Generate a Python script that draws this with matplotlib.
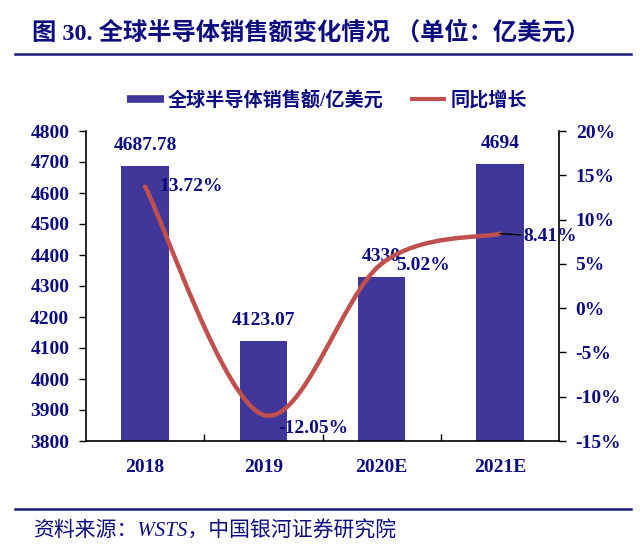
import matplotlib
matplotlib.use("Agg")
import matplotlib.pyplot as plt
from matplotlib.lines import Line2D
from matplotlib.path import Path
from matplotlib.patches import PathPatch
from matplotlib.font_manager import FontProperties

YEARS = ["2018", "2019", "2020E", "2021E"]
SALES = [4687.78, 4123.07, 4330, 4694]
GROWTH = [13.72, -12.05, 5.02, 8.41]
SALES_LABELS = ["4687.78", "4123.07", "4330", "4694"]
GROWTH_LABELS = ["13.72%", "-12.05%", "5.02%", "8.41%"]

TITLE = "图 30. 全球半导体销售额变化情况 （单位：亿美元）"
SOURCE = "资料来源：WSTS，中国银河证券研究院"
LEGEND = ["全球半导体销售额/亿美元", "同比增长"]

BAR_C, LINE_C, NAVY = "#41369a", "#c0504d", "#0c0c7e"
FAM = ["Liberation Serif", "Noto Sans CJK SC", "DejaVu Sans"]


def smooth_path(xs, ys):
    # Catmull-Rom style bezier, like Excel's smoothed line
    pts = list(zip(xs, ys))
    verts, codes = [pts[0]], [Path.MOVETO]
    n = len(pts)
    for i in range(n - 1):
        p0 = pts[i - 1] if i > 0 else pts[i]
        p1, p2 = pts[i], pts[i + 1]
        p3 = pts[i + 2] if i + 2 < n else pts[i + 1]
        c1 = (p1[0] + (p2[0] - p0[0]) / 6, p1[1] + (p2[1] - p0[1]) / 6)
        c2 = (p2[0] - (p3[0] - p1[0]) / 6, p2[1] - (p3[1] - p1[1]) / 6)
        verts += [c1, c2, p2]
        codes += [Path.CURVE4] * 3
    return Path(verts, codes)


def main():
    fig = plt.figure(figsize=(6.4, 5.49), dpi=100)
    ax = fig.add_axes([86 / 640, 1 - 441 / 549, 473 / 640, 310 / 549])
    x = list(range(len(YEARS)))

    ax.bar(x, SALES, width=0.4, color=BAR_C, zorder=2)
    ax.set_xlim(-0.5, 3.5)
    ax.set_ylim(3800, 4800)
    ax.set_yticks(range(3800, 4801, 100))
    ax.set_xticks(x)
    ax.set_xticklabels(YEARS)
    ax.set_xticks([0.5, 1.5, 2.5], minor=True)
    ax.tick_params(axis="x", which="major", length=0, pad=13)
    ax.tick_params(axis="x", which="minor", direction="in", length=5, width=1)
    ax.tick_params(axis="y", direction="out", length=5, width=1, pad=7)
    for s in ("top", "right"):
        ax.spines[s].set_visible(False)

    ax2 = ax.twinx()
    ax2.set_ylim(-15, 20)
    ax2.set_yticks(range(-15, 21, 5))
    ax2.set_yticklabels([f"{v}%" for v in range(-15, 21, 5)])
    ax2.tick_params(axis="y", direction="out", length=5, width=1, pad=7)
    for s in ("top", "left", "bottom"):
        ax2.spines[s].set_visible(False)
    ax2.add_patch(PathPatch(smooth_path(x, GROWTH), facecolor="none",
                            edgecolor=LINE_C, lw=3.2, capstyle="round", zorder=3))

    for a in (ax, ax2):
        for sp in a.spines.values():
            sp.set_linewidth(1.2)
        for lab in a.get_xticklabels() + a.get_yticklabels():
            lab.set_fontproperties(FontProperties(family=FAM, weight="bold", size=14))
            lab.set_color(NAVY)

    num_font = dict(family=FAM, fontweight="bold", fontsize=14, color=NAVY)
    for xi, v, t in zip(x, SALES, SALES_LABELS):
        ax.annotate(t, (xi, v), xytext=(0, 20), textcoords="offset pixels",
                    ha="center", va="center", zorder=4, **num_font)

    offs = [(14, 0), (15, -14), (15, -2), (24, -3)]
    for i, (xi, v, t) in enumerate(zip(x, GROWTH, GROWTH_LABELS)):
        arrow = dict(arrowstyle="-", color="black", lw=1, shrinkA=0, shrinkB=0) if i == 3 else None
        ax2.annotate(t, (xi, v), xytext=offs[i], textcoords="offset pixels",
                     ha="left", va="center", zorder=5, arrowprops=arrow, **num_font)

    # title, rules and source
    fig.text(32 / 640, 1 - 33 / 549, TITLE, ha="left", va="center", color=NAVY,
             family=FAM, fontweight="bold", fontsize=17.5)
    for yy in (54, 509):
        fig.add_artist(Line2D([15 / 640, 631 / 640], [1 - yy / 549] * 2,
                              transform=fig.transFigure, color="#1a1a7a", lw=1.8))
    fig.text(33 / 640, 1 - 532 / 549, SOURCE, ha="left", va="center", color=NAVY,
             family=FAM, fontstyle="italic", fontsize=15)

    handles = [Line2D([], [], color=BAR_C, lw=5.5, solid_capstyle="butt"),
               Line2D([], [], color=LINE_C, lw=3, solid_capstyle="butt")]
    leg = fig.legend(handles, LEGEND, loc="center", bbox_to_anchor=(327 / 640, 1 - 100 / 549),
                     ncol=2, frameon=False, handlelength=1.9, handletextpad=0.2,
                     columnspacing=1.4,
                     prop=FontProperties(family=FAM, weight="bold", size=13.8))
    for t in leg.get_texts():
        t.set_color(NAVY)

    fig.savefig("out.png", dpi=100, facecolor="white")
    plt.close(fig)


if __name__ == "__main__":
    main()
